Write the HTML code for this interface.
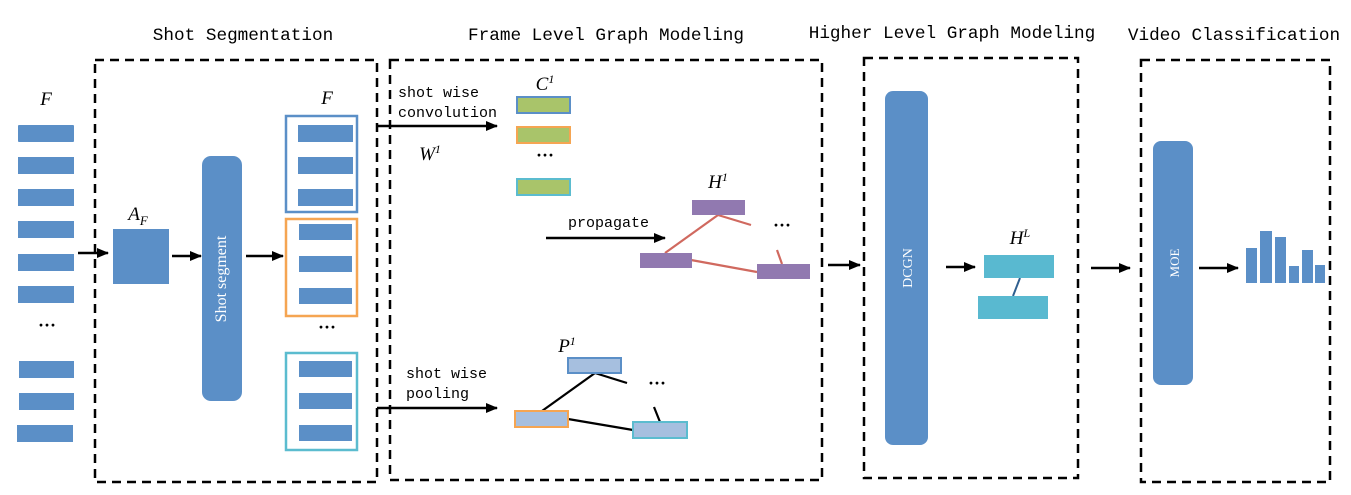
<!DOCTYPE html>
<html><head><meta charset="utf-8"><style>html,body{margin:0;padding:0;background:#fff}svg{display:block}</style></head><body>
<svg width="1351" height="495" viewBox="0 0 1351 495" xmlns="http://www.w3.org/2000/svg">
<defs><marker id="a" markerWidth="12" markerHeight="10" refX="11" refY="5" orient="auto" markerUnits="userSpaceOnUse"><path d="M0,0 L12,5 L0,10 z" fill="#000"/></marker></defs>
<g font-family="Liberation Mono, monospace" font-size="17.7" fill="#000" text-anchor="middle">
<text x="243" y="40">Shot Segmentation</text>
<text x="606" y="40">Frame Level Graph Modeling</text>
<text x="952" y="38">Higher Level Graph Modeling</text>
<text x="1234" y="40">Video Classification</text>
</g>
<g fill="none" stroke="#000" stroke-width="2.5" stroke-dasharray="9,6">
<rect x="95" y="60" width="282" height="422"/>
<rect x="390" y="60" width="432" height="420"/>
<rect x="864" y="58" width="214" height="420"/>
<rect x="1141" y="60" width="189" height="422"/>
</g>
<g font-family="Liberation Serif, serif" font-style="italic" font-size="19" text-anchor="middle">
<text x="46" y="105">F</text><text x="327" y="104">F</text>
<text x="138" y="220">A<tspan font-size="13" dy="5">F</tspan></text>
<text x="430" y="160">W<tspan font-size="12" dy="-7">1</tspan></text>
<text x="545" y="90">C<tspan font-size="12" dy="-7">1</tspan></text>
<text x="718" y="188">H<tspan font-size="12" dy="-7">1</tspan></text>
<text x="567" y="352">P<tspan font-size="12" dy="-7">1</tspan></text>
<text x="1020" y="244">H<tspan font-size="12" dy="-7">L</tspan></text>
</g>
<g fill="#5b8fc7">
<rect x="18" y="125" width="56" height="17" rx="1"/><rect x="18" y="157" width="56" height="17"/><rect x="18" y="189" width="56" height="17"/><rect x="18" y="221" width="56" height="17"/><rect x="18" y="254" width="56" height="17"/><rect x="18" y="286" width="56" height="17"/>
<rect x="19" y="361" width="55" height="17"/><rect x="19" y="393" width="55" height="17"/><rect x="17" y="425" width="56" height="17"/>
<rect x="113" y="229" width="56" height="55"/>
<rect x="202" y="156" width="40" height="245" rx="9"/>
<rect x="298" y="125" width="55" height="17"/><rect x="298" y="157" width="55" height="17"/><rect x="298" y="189" width="55" height="17"/>
<rect x="299" y="224" width="53" height="16"/><rect x="299" y="256" width="53" height="16"/><rect x="299" y="288" width="53" height="16"/>
<rect x="299" y="361" width="53" height="16"/><rect x="299" y="393" width="53" height="16"/><rect x="299" y="425" width="53" height="16"/>
<rect x="885" y="91" width="43" height="354" rx="8"/>
<rect x="1153" y="141" width="40" height="244" rx="8"/>
<rect x="1246" y="248" width="11" height="35"/><rect x="1260" y="231" width="12" height="52"/><rect x="1275" y="237" width="11" height="46"/><rect x="1289" y="266" width="10" height="17"/><rect x="1302" y="250" width="11" height="33"/><rect x="1315" y="265" width="10" height="18"/>
</g>
<g fill="none" stroke-width="2.5">
<rect x="286" y="116" width="71" height="96" stroke="#5b8fc7"/>
<rect x="286" y="219" width="71" height="97" stroke="#f5a552"/>
<rect x="286" y="353" width="71" height="97" stroke="#5bbccf"/>
</g>
<g font-family="Liberation Serif, serif" font-size="16" fill="#fff" text-anchor="middle">
<text transform="translate(226,279) rotate(-90)">Shot segment</text>
<text transform="translate(912,268) rotate(-90)" font-size="14">DCGN</text>
<text transform="translate(1179,263) rotate(-90)" font-size="13">MOE</text>
</g>
<g font-family="Liberation Serif, serif" font-size="18" text-anchor="middle" font-weight="bold">
<text x="47" y="331">···</text><text x="327" y="333">···</text><text x="545" y="161">···</text><text x="782" y="231">···</text><text x="657" y="389">···</text>
</g>
<g stroke="#000" stroke-width="2.4" marker-end="url(#a)">
<line x1="78" y1="253" x2="108" y2="253"/><line x1="172" y1="256" x2="201" y2="256"/><line x1="246" y1="256" x2="283" y2="256"/>
<line x1="377" y1="126" x2="497" y2="126"/><line x1="546" y1="238" x2="665" y2="238"/>
<line x1="377" y1="408" x2="497" y2="408"/>
<line x1="828" y1="265" x2="860" y2="265"/><line x1="946" y1="267" x2="975" y2="267"/>
<line x1="1091" y1="268" x2="1130" y2="268"/><line x1="1199" y1="268" x2="1238" y2="268"/>
</g>
<g font-family="Liberation Mono, monospace" font-size="15">
<text x="398" y="97">shot wise</text><text x="398" y="117">convolution</text>
<text x="568" y="227">propagate</text>
<text x="406" y="378">shot wise</text><text x="406" y="398">pooling</text>
</g>
<g fill="#a9c46a" stroke-width="2">
<rect x="517" y="97" width="53" height="16" stroke="#5b8fc7"/>
<rect x="517" y="127" width="53" height="16" stroke="#f5a552"/>
<rect x="517" y="179" width="53" height="16" stroke="#5bbccf"/>
</g>
<g stroke="#d0695f" stroke-width="2.2"><line x1="718" y1="215" x2="665" y2="253"/><line x1="718" y1="215" x2="751" y2="225"/><line x1="777" y1="250" x2="782" y2="264"/><line x1="691" y1="260" x2="757" y2="272"/></g>
<g fill="#9179b0"><rect x="692" y="200" width="53" height="15"/><rect x="640" y="253" width="52" height="15"/><rect x="757" y="264" width="53" height="15"/></g>
<g stroke="#000" stroke-width="2.2"><line x1="595" y1="373" x2="542" y2="411"/><line x1="595" y1="373" x2="627" y2="383"/><line x1="654" y1="407" x2="660" y2="422"/><line x1="568" y1="419" x2="633" y2="430"/></g>
<g fill="#a6bfdf" stroke-width="2">
<rect x="568" y="358" width="53" height="15" stroke="#5b8fc7"/>
<rect x="515" y="411" width="53" height="16" stroke="#f5a552"/>
<rect x="633" y="422" width="54" height="16" stroke="#5bbccf"/>
</g>
<line x1="1020" y1="278" x2="1013" y2="296" stroke="#2f5f8f" stroke-width="2"/>
<g fill="#59b9d0"><rect x="984" y="255" width="70" height="23"/><rect x="978" y="296" width="70" height="23"/></g>
</svg>
</body></html>
